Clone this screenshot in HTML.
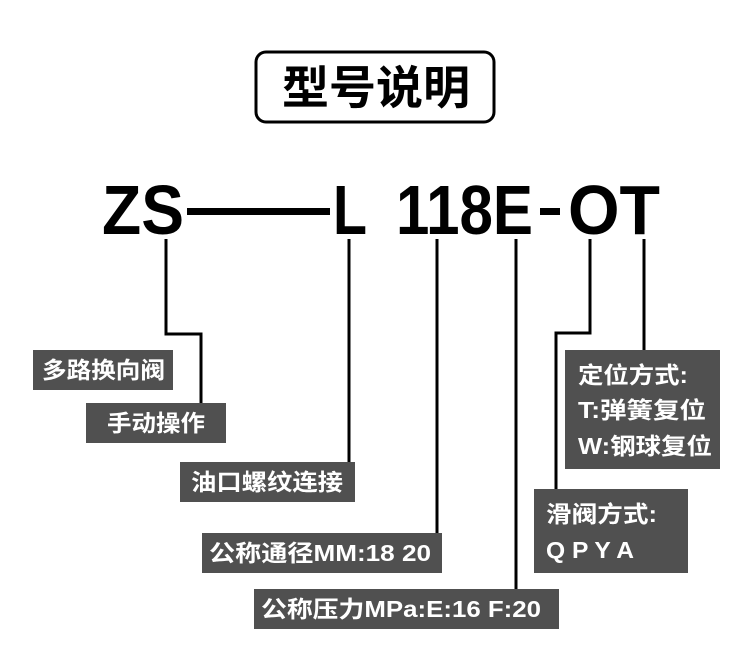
<!DOCTYPE html>
<html><head><meta charset="utf-8"><style>
html,body{margin:0;padding:0;background:#fff;}
svg{display:block}
.w{fill:#fff;font-family:"Liberation Sans","Noto Sans CJK SC",sans-serif;font-size:23px;font-weight:bold}
.b{fill:#000;font-family:"Liberation Sans","Noto Sans CJK SC",sans-serif;font-weight:bold}
</style></head><body>
<svg width="750" height="671" viewBox="0 0 750 671" xmlns="http://www.w3.org/2000/svg">
<rect x="256" y="52" width="238" height="70" rx="10" fill="#fff" stroke="#000" stroke-width="3"/>
<text x="282" y="104" class="b" style="font-family:'Noto Sans CJK SC',sans-serif;font-size:46px" textLength="188" lengthAdjust="spacingAndGlyphs">型号说明</text>

<g class="b" style="font-size:70px">
<text x="102" y="234" textLength="82" lengthAdjust="spacingAndGlyphs">ZS</text>
<text x="333" y="234" textLength="34" lengthAdjust="spacingAndGlyphs">L</text>
<text x="396" y="234" textLength="137" lengthAdjust="spacingAndGlyphs">118E</text>
<text x="568" y="234" textLength="92" lengthAdjust="spacingAndGlyphs">OT</text>
</g>
<rect x="187" y="208" width="143" height="7" fill="#000"/>
<rect x="540" y="208" width="20" height="7" fill="#000"/>

<g fill="none" stroke="#000" stroke-width="3">
<polyline points="166,239 166,334 201,334 201,403"/>
<line x1="349" y1="239" x2="349" y2="462"/>
<line x1="437" y1="239" x2="437" y2="533"/>
<line x1="516" y1="239" x2="516" y2="589"/>
<polyline points="590,239 590,333 556,333 556,489"/>
<line x1="644" y1="239" x2="644" y2="350"/>
</g>

<g fill="#505050">
<rect x="33" y="350" width="140" height="40"/>
<rect x="86" y="403" width="140" height="40"/>
<rect x="180" y="462" width="175" height="40"/>
<rect x="202" y="533" width="240" height="40"/>
<rect x="254" y="589" width="305" height="40"/>
<rect x="534" y="489" width="154" height="84"/>
<rect x="565" y="350" width="155" height="119"/>
</g>
<g class="w">
<text x="42" y="378" textLength="123" lengthAdjust="spacingAndGlyphs">多路换向阀</text>
<text x="107" y="431" textLength="98" lengthAdjust="spacingAndGlyphs">手动操作</text>
<text x="191" y="490" textLength="152" lengthAdjust="spacingAndGlyphs">油口螺纹连接</text>
<text x="209" y="561" textLength="222" lengthAdjust="spacingAndGlyphs">公称通径MM:18 20</text>
<text x="261" y="617" textLength="280" lengthAdjust="spacingAndGlyphs">公称压力MPa:E:16 F:20</text>
<text x="546" y="522" textLength="111" lengthAdjust="spacingAndGlyphs">滑阀方式:</text>
<text x="546" y="558" textLength="88" lengthAdjust="spacingAndGlyphs">Q P Y A</text>
<text x="578" y="383" textLength="110" lengthAdjust="spacingAndGlyphs">定位方式:</text>
<text x="578" y="418" textLength="128" lengthAdjust="spacingAndGlyphs">T:弹簧复位</text>
<text x="578" y="454" textLength="134" lengthAdjust="spacingAndGlyphs">W:钢球复位</text>
</g>
</svg>
</body></html>
